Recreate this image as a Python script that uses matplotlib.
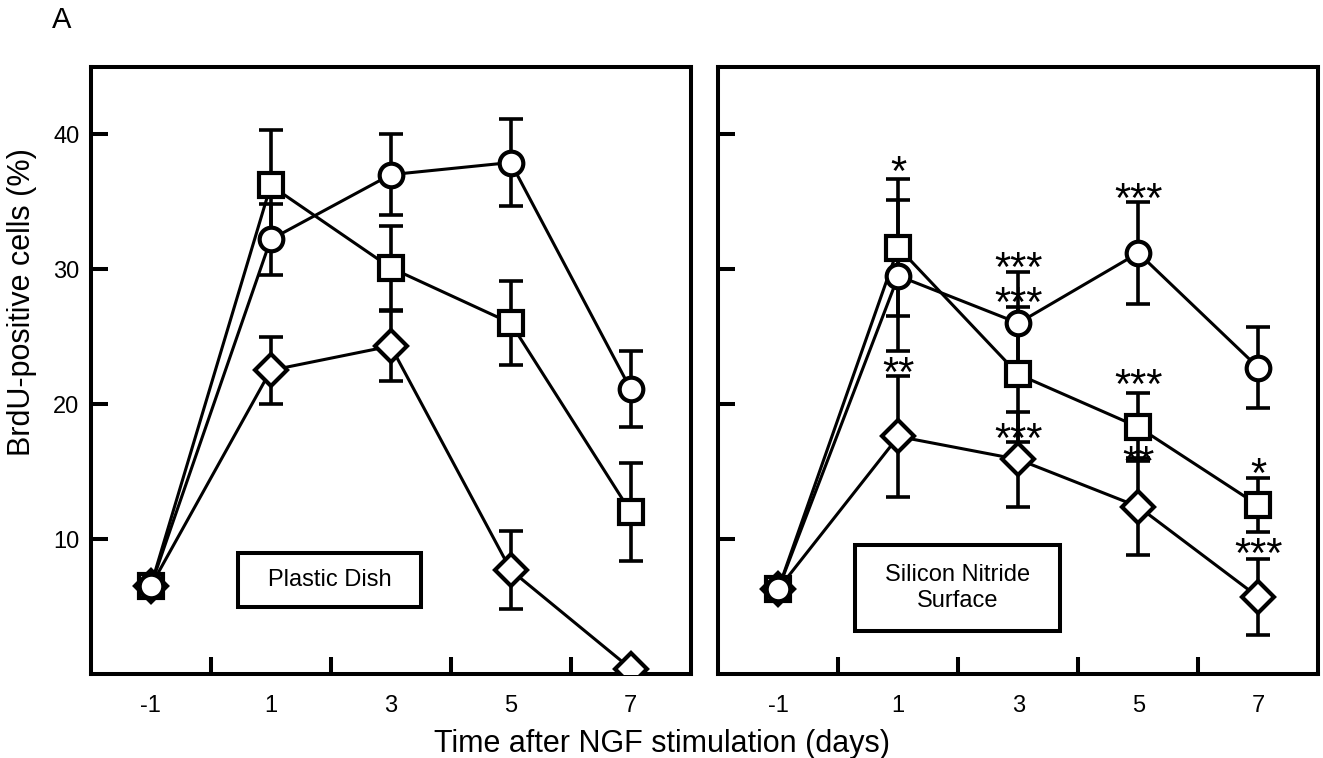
import matplotlib
matplotlib.use('Agg')
import matplotlib.pyplot as plt
from matplotlib.patches import Rectangle
from matplotlib.transforms import offset_copy

plt.rcParams['font.family'] = ['Liberation Sans', 'DejaVu Sans']

days = [-1, 1, 3, 5, 7]
day_labels = ['-1', '1', '3', '5', '7']
minor_days = [0, 2, 4, 6]
y_ticks = [10, 20, 30, 40]

# Plastic dish
plastic_circle = [6.5, 32.2, 37.0, 37.9, 21.1]
plastic_circle_err = [0, 2.6, 3.0, 3.2, 2.8]
plastic_square = [6.5, 36.2, 30.1, 26.0, 12.0]
plastic_square_err = [0, 4.1, 3.1, 3.1, 3.6]
plastic_diamond = [6.5, 22.5, 24.3, 7.7, 0.4]
plastic_diamond_err = [0, 2.5, 2.6, 2.9, 0]

# Silicon nitride surface
sin_circle = [6.3, 29.5, 26.0, 31.2, 22.7]
sin_circle_err = [0, 5.6, 3.8, 3.8, 3.0]
sin_square = [6.3, 31.6, 22.2, 18.3, 12.5]
sin_square_err = [0, 5.1, 5.0, 2.5, 2.0]
sin_diamond = [6.3, 17.6, 15.9, 12.4, 5.7]
sin_diamond_err = [0, 4.5, 3.5, 3.6, 2.8]

# significance marks (right panel)
sig_x = [1, 1, 3, 3, 3, 5, 5, 5, 7, 7]
sig_y = [37.8, 22.9, 30.7, 28.1, 18.0, 35.8, 22.0, 16.3, 15.4, 9.45]
sig_text = ['*', '**', '***', '***', '***', '***', '***', '**', '*', '***']

W, H = 1323, 758
fig = plt.figure(figsize=(W / 100, H / 100), dpi=100)
ax1 = fig.add_axes([90.7 / W, (H - 674) / H, 600 / W, 607.3 / H])
ax2 = fig.add_axes([718.3 / W, (H - 674) / H, 600 / W, 607.3 / H])

markers = ['o', 's', 'D']
sizes = [17, 17, 16]


def draw(ax, series, errs):
    for vals, err in zip(series, errs):
        ax.errorbar(days, vals, yerr=err, fmt='none', ecolor='black',
                    elinewidth=2.6, capsize=8.3, capthick=2.6, zorder=2)
        ax.plot(days, vals, color='black', lw=2.2, zorder=2)
    # later days: circle, square, diamond
    for vals, m, ms in zip(series, markers, sizes):
        ax.plot(days[1:], vals[1:], linestyle='none', marker=m, ms=ms,
                mfc='white', mec='black', mew=3, zorder=3)
    # first day: overlapping markers, circle on top
    for vals, m, ms in list(zip(series, markers, sizes))[::-1]:
        ax.plot(days[:1], vals[:1], linestyle='none', marker=m, ms=ms,
                mfc='white', mec='black', mew=3, zorder=3)
    ax.set_xlim(-2, 8)
    ax.set_ylim(0, 45)
    ax.set_xticks(minor_days)
    ax.set_xticklabels([])
    ax.set_xticks(days, minor=True)
    ax.set_xticklabels(day_labels, minor=True)
    ax.tick_params(axis='x', which='major', direction='in', length=12, width=2.9)
    ax.tick_params(axis='x', which='minor', length=0, pad=15, labelsize=17)
    ax.set_yticks(y_ticks)
    ax.tick_params(axis='y', direction='in', length=12, width=2.9, pad=8, labelsize=17)
    for s in ax.spines.values():
        s.set_linewidth(2.9)


draw(ax1, [plastic_circle, plastic_square, plastic_diamond],
     [plastic_circle_err, plastic_square_err, plastic_diamond_err])
draw(ax2, [sin_circle, sin_square, sin_diamond],
     [sin_circle_err, sin_square_err, sin_diamond_err])
ax2.tick_params(axis='y', labelleft=False)

# label boxes
ax1.add_patch(Rectangle((0.46, 5.0), 3.04, 3.96, fill=False, lw=2.9,
                        edgecolor='black', zorder=4))
ax1.text(1.98, 7.0, 'Plastic Dish', ha='center', va='center', fontsize=17)
ax2.add_patch(Rectangle((0.28, 3.2), 3.41, 6.38, fill=False, lw=2.9,
                        edgecolor='black', zorder=4))
ax2.text(1.99, 6.4, 'Silicon Nitride\nSurface', ha='center', va='center',
         fontsize=17, linespacing=1.25)

# significance asterisks
tr = offset_copy(ax2.transData, fig=fig, x=0, y=-21, units='dots')
for x, y, t in zip(sig_x, sig_y, sig_text):
    ax2.text(x, y, t, ha='center', va='baseline', fontsize=30, transform=tr,
             zorder=5)

fig.text(22 / W, 1 - 302 / H, 'BrdU-positive cells (%)', rotation=90,
         ha='center', va='center', fontsize=22)
fig.text(662 / W, 1 - 744 / H, 'Time after NGF stimulation (days)',
         ha='center', va='center', fontsize=22)
fig.text(52 / W, 1 - 20 / H, 'A', ha='left', va='center', fontsize=21)

fig.savefig('out.png', dpi=100)
